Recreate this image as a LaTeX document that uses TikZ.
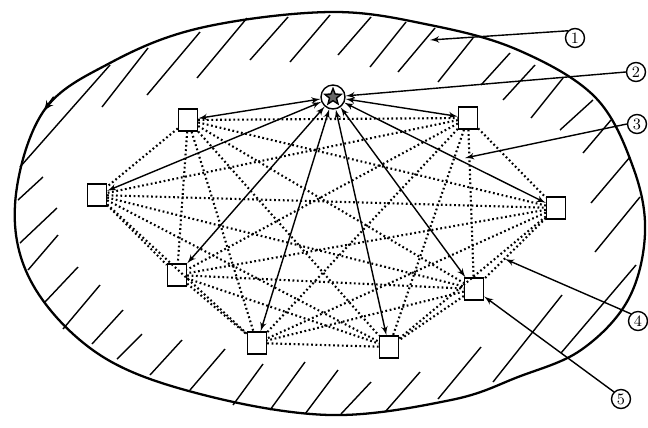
\documentclass[tikz,border=0pt]{standalone}
\usepackage{tikz}
\usetikzlibrary{shapes, arrows, positioning, calc}

\begin{document}
\begin{tikzpicture}[x=0.02cm, y=-0.02cm, >=latex', thick]
        \tikzstyle{station} = [draw, rectangle, minimum width=0.38cm, minimum height=0.44cm, inner sep=0pt, line width=0.8pt]
        \tikzstyle{link} = [line width=1.2pt, dash pattern=on 1pt off 1.5pt]
        \tikzstyle{beam} = [<->, line width=0.8pt]
        \tikzstyle{tag} = [draw, circle, minimum size=0.38cm, inner sep=0pt, font=\small, line width=0.8pt]
        \tikzstyle{hatch} = [line width=0.8pt]
        \useasboundingbox (0,0) rectangle (648,427);

        % Contur zona
        \draw [line width=1.3pt] plot [smooth cycle, tension=0.6] coordinates {(330,12) (430,25) (518,50) (595,97) (633,167) (645,233) (628,300) (581,350) (518,377) (451,400) (330,415) (200,394) (100,355) (33,285) (15,205) (43,112) (110,63) (200,28)};
        \draw [->, line width=1.3pt] (54,97) -- (43,112);

        % Hasuri
        \foreach \xa/\ya/\xb/\yb in {20/167/110/65, 18/200/43/177, 102/107/148/48, 147/95/200/32, 197/78/247/18, 250/60/288/17, 290/62/330/15,
                338/55/371/17, 370/67/406/22, 398/72/435/28, 438/82/473/38, 481/85/510/53, 503/100/535/65, 531/118/563/78,
                560/130/593/100, 583/153/611/120, 591/203/630/157, 595/252/640/197, 561/353/636/265, 493/382/562/295,
                438/399/481/347, 385/412/420/372, 341/414/371/382, 305/414/338/370, 270/410/305/362, 233/405/263/364,
                190/390/225/349, 150/375/182/340, 117/359/142/334, 92/344/123/310, 63/329/100/285, 45/302/78/267,
                28/270/58/235, 20/243/57/208}
            \draw [hatch] (\xa,\ya) -- (\xb,\yb);

        % Statii
        \node [station] (s1) at (188,120) {};
        \node [station] (s2) at (468,118) {};
        \node [station] (s3) at (97,195) {};
        \node [station] (s4) at (556,208) {};
        \node [station] (s5) at (177,275) {};
        \node [station] (s6) at (474,289) {};
        \node [station] (s7) at (257,343) {};
        \node [station] (s8) at (389,347) {};

        % Nod central
        \node [draw, circle, minimum size=0.48cm, inner sep=0pt, line width=0.8pt] (hub) at (333,97) {};
        \node [star, star points=5, star point ratio=2.3, draw, fill=black!60, minimum size=0.34cm, inner sep=0pt] (core) at (hub) {};

        % Legaturi intre statii
        \foreach \i in {1,...,7} {
            \pgfmathtruncatemacro{\k}{\i+1}
            \foreach \j in {\k,...,8}
                \draw [link] (s\i) -- (s\j);
        }

        % Legaturi cu nodul central
        \foreach \i in {1,...,8}
            \draw [beam] (hub) -- (s\i);

        % Repere
        \node [tag] (l1) at (575,38) {1};
        \node [tag] (l2) at (636,72) {2};
        \node [tag] (l3) at (637,124) {3};
        \node [tag] (l4) at (638,321) {4};
        \node [tag] (l5) at (621,399) {5};
        \coordinate (p1) at (430,40);
        \coordinate (p3) at (465,158);
        \coordinate (p4) at (505,259);

        \draw [->, line width=0.8pt] (l1.north west) -- (p1);
        \draw [->, line width=0.8pt] (l2.west) -- (hub);
        \draw [->, line width=0.8pt] (l3.west) -- (p3);
        \draw [->, line width=0.8pt] (l4.north west) -- (p4);
        \draw [->, line width=0.8pt] (l5.north west) -- (s6);

    \end{tikzpicture}
\end{document}
